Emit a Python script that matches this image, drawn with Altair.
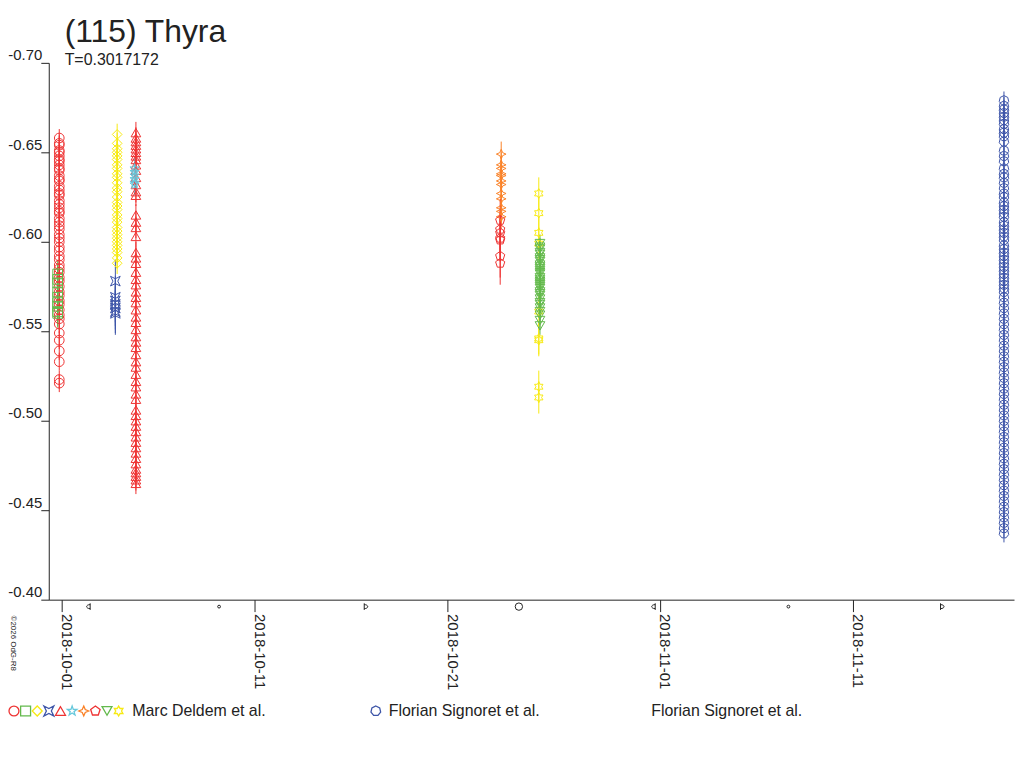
import altair as alt
import pandas as pd

TITLE = "(115) Thyra"
SUBTITLE = "T=0.3017172"
COPYRIGHT = "©2026 OdG-R8"

# ---- sessions (one symbol each) ----
session_ids = ["circ", "sq", "dia", "bow", "tri", "star5", "star4", "pent", "star6", "tdown", "hept"]
session_times = [
    "2018-09-30T21:00:00Z", "2018-09-30T19:00:00Z",
    "2018-10-03T21:00:00Z", "2018-10-03T18:45:00Z",
    "2018-10-04T20:20:00Z", "2018-10-04T18:40:00Z",
    "2018-10-23T18:45:00Z", "2018-10-23T17:30:00Z",
    "2018-10-25T17:30:00Z", "2018-10-25T19:00:00Z",
    "2018-11-18T20:10:00Z",
]
session_errors = [0.005, 0.008, 0.006, 0.012, 0.006, 0.006, 0.007, 0.012, 0.009, 0.005, 0.005]

mag_circ = [-0.658, -0.655, -0.654, -0.651, -0.650, -0.648, -0.646, -0.645, -0.643, -0.641,
            -0.640, -0.637, -0.635, -0.634, -0.631, -0.629, -0.627, -0.626, -0.623, -0.621,
            -0.619, -0.617, -0.616, -0.613, -0.611, -0.609, -0.607, -0.604, -0.602, -0.600,
            -0.597, -0.595, -0.592, -0.590, -0.587, -0.585, -0.583, -0.580, -0.578, -0.575,
            -0.572, -0.570, -0.567, -0.565, -0.562, -0.559, -0.557, -0.554, -0.549, -0.545,
            -0.539, -0.533, -0.523, -0.521]
mag_sq = [-0.582, -0.579, -0.577, -0.572, -0.569, -0.566, -0.564, -0.561, -0.560]
mag_dia = [-0.660, -0.655, -0.652, -0.650, -0.648, -0.646, -0.643, -0.641, -0.638, -0.636,
           -0.633, -0.630, -0.628, -0.625, -0.622, -0.620, -0.618, -0.615, -0.613, -0.611,
           -0.608, -0.606, -0.604, -0.602, -0.600, -0.598, -0.596, -0.594, -0.591, -0.588]
mag_bow = [-0.578, -0.569, -0.567, -0.565, -0.563, -0.561, -0.560]
mag_tri = [-0.661, -0.658, -0.656, -0.654, -0.652, -0.650, -0.648, -0.646, -0.643, -0.640,
           -0.636, -0.632, -0.628, -0.626, -0.615, -0.611, -0.608, -0.603, -0.594, -0.591,
           -0.588, -0.583, -0.579, -0.576, -0.572, -0.569, -0.566, -0.562, -0.558, -0.555,
           -0.551, -0.547, -0.544, -0.541, -0.537, -0.533, -0.530, -0.526, -0.522, -0.519,
           -0.515, -0.512, -0.506, -0.503, -0.500, -0.497, -0.494, -0.491, -0.488, -0.485,
           -0.482, -0.479, -0.476, -0.473, -0.471, -0.469, -0.467, -0.465]
mag_star5 = [-0.641, -0.639, -0.637, -0.635, -0.633, -0.632]
mag_star4 = [-0.649, -0.643, -0.641, -0.638, -0.637, -0.634, -0.632, -0.627, -0.624, -0.619,
             -0.617, -0.614]
mag_pent = [-0.612, -0.607, -0.605, -0.602, -0.601, -0.592, -0.588]
mag_star6 = [-0.627, -0.616, -0.605, -0.599, -0.561, -0.546, -0.545, -0.519, -0.513]
mag_tdown = [-0.599, -0.597, -0.596, -0.594, -0.593, -0.591, -0.590, -0.589, -0.587, -0.586,
             -0.585, -0.584, -0.583, -0.582, -0.580, -0.579, -0.578, -0.577, -0.576, -0.575,
             -0.574, -0.572, -0.571, -0.570, -0.568, -0.566, -0.565, -0.563, -0.561, -0.559,
             -0.556, -0.553]
mag_hept = [-0.679, -0.676, -0.674, -0.672, -0.670, -0.668, -0.666, -0.663, -0.661, -0.659,
            -0.656, -0.651, -0.648, -0.645, -0.641, -0.638, -0.636, -0.633, -0.630, -0.627,
            -0.625, -0.622, -0.620, -0.618, -0.616, -0.614, -0.611, -0.609, -0.607, -0.605,
            -0.603, -0.601, -0.598, -0.596, -0.594, -0.592, -0.590, -0.588, -0.586, -0.584,
            -0.582, -0.580, -0.578, -0.576, -0.574, -0.572, -0.569, -0.566, -0.563, -0.560,
            -0.557, -0.554, -0.551, -0.548, -0.545, -0.542, -0.539, -0.536, -0.533, -0.530,
            -0.527, -0.524, -0.521, -0.518, -0.515, -0.512, -0.509, -0.506, -0.503, -0.500,
            -0.497, -0.494, -0.491, -0.488, -0.485, -0.482, -0.479, -0.476, -0.473, -0.470,
            -0.467, -0.464, -0.461, -0.458, -0.455, -0.452, -0.449, -0.446, -0.443, -0.440,
            -0.437]
session_mags = [mag_circ, mag_sq, mag_dia, mag_bow, mag_tri, mag_star5, mag_star4,
                mag_pent, mag_star6, mag_tdown, mag_hept]

observers = ["Marc Deldem et al.", "Florian Signoret et al.", "Florian Signoret et al."]
legend_group1 = ["circ", "sq", "dia", "bow", "tri", "star5", "star4", "pent", "tdown", "star6"]

moon_dates = ["2018-10-02T09:45:00Z", "2018-10-09T03:47:00Z", "2018-10-16T18:02:00Z",
              "2018-10-24T16:45:00Z", "2018-10-31T16:40:00Z", "2018-11-07T16:02:00Z",
              "2018-11-15T14:54:00Z"]
moon_kind = ["last", "new", "first", "full", "last", "new", "first"]

y_ticks = [-0.70, -0.65, -0.60, -0.55, -0.50, -0.45, -0.40]

# ---- styles ----
RED, GREEN, YELLOW, BLUE, CYAN, ORANGE = "#ee3333", "#63b94c", "#f7ea12", "#3d55a8", "#66c8dc", "#fa8228"
BOW = "M-1,-1L0,-0.5L1,-1L0.5,0L1,1L0,0.5L-1,1L-0.5,0Z"
STAR5 = ("M0,-1L0.235,-0.324L0.951,-0.309L0.380,0.124L0.588,0.809L0,0.4"
         "L-0.588,0.809L-0.380,0.124L-0.951,-0.309L-0.235,-0.324Z")
STAR4 = "M0,-1L0.3,-0.3L1,0L0.3,0.3L0,1L-0.3,0.3L-1,0L-0.3,-0.3Z"
PENT = "M0,-1L0.951,-0.309L0.588,0.809L-0.588,0.809L-0.951,-0.309Z"
STAR6 = ("M0,-1L0.289,-0.5L0.866,-0.5L0.577,0L0.866,0.5L0.289,0.5L0,1L-0.289,0.5"
         "L-0.866,0.5L-0.577,0L-0.866,-0.5L-0.289,-0.5Z")
HEPT = "M0,-1L0.782,-0.623L0.975,0.223L0.434,0.901L-0.434,0.901L-0.975,0.223L-0.782,-0.623Z"
style_shape = {"circ": "circle", "sq": "square", "dia": "diamond", "bow": BOW,
               "tri": "triangle-up", "star5": STAR5, "star4": STAR4, "pent": PENT,
               "star6": STAR6, "tdown": "triangle-down", "hept": HEPT}
style_color = {"circ": RED, "sq": GREEN, "dia": YELLOW, "bow": BLUE, "tri": RED,
               "star5": CYAN, "star4": ORANGE, "pent": RED, "star6": YELLOW,
               "tdown": GREEN, "hept": BLUE}
LASTQ = "M0.4,-1L0.4,1M0.4,-0.6C-1,-0.6 -1,0.6 0.4,0.6"
FIRSTQ = "M-0.4,-1L-0.4,1M-0.4,-0.6C1,-0.6 1,0.6 -0.4,0.6"
moon_shape = {"last": LASTQ, "new": "circle", "first": FIRSTQ, "full": "circle"}
moon_size = {"last": 45, "new": 8, "first": 45, "full": 55}

FONT = "Liberation Sans"
INK = "#222222"
W, H = 971, 540

rows = []
for sid, t, err, mags in zip(session_ids, session_times, session_errors, session_mags):
    for m in mags:
        rows.append({"sid": sid, "t": t, "mag": m, "lo": m - err, "hi": m + err})
df = pd.DataFrame(rows)

shape_scale = alt.Scale(domain=session_ids, range=[style_shape[s] for s in session_ids])
color_scale = alt.Scale(domain=session_ids, range=[style_color[s] for s in session_ids])

x_scale = alt.Scale(
    type="utc",
    domain=[alt.DateTime(year=2018, month=9, date=30, hours=7, minutes=55, utc=True),
            alt.DateTime(year=2018, month=11, date=19, hours=8, minutes=40, utc=True)],
    nice=False,
)
x_axis = alt.Axis(
    title=None, format="%Y-%m-%d", labelAngle=90, labelAlign="left",
    labelBaseline="alphabetic", labelFontSize=15, labelPadding=2, tickSize=12,
    values=[alt.DateTime(year=2018, month=10, date=1, utc=True),
            alt.DateTime(year=2018, month=10, date=11, utc=True),
            alt.DateTime(year=2018, month=10, date=21, utc=True),
            alt.DateTime(year=2018, month=11, date=1, utc=True),
            alt.DateTime(year=2018, month=11, date=11, utc=True)],
    labelFlush=False, labelOverlap=False,
)
y_scale = alt.Scale(domain=[-0.70, -0.40], reverse=True, nice=False, zero=False)
y_axis = alt.Axis(
    title=None, values=y_ticks, tickSize=8, labelFontSize=15, labelPadding=-1,
    labelBaseline="bottom", labelExpr="replace(format(datum.value, '.2f'), '\u2212', '-')",
    labelFlush=False, labelOverlap=False,
)

base = alt.Chart(df)
rules = base.mark_rule(strokeWidth=1).encode(
    x=alt.X("t:T", scale=x_scale, axis=x_axis),
    y=alt.Y("lo:Q", scale=y_scale, axis=y_axis),
    y2="hi:Q",
    color=alt.Color("sid:N", scale=color_scale, legend=None),
)
points = base.mark_point(filled=False, strokeWidth=1, size=95, opacity=1).encode(
    x="t:T",
    y="mag:Q",
    color=alt.Color("sid:N", scale=color_scale, legend=None),
    shape=alt.Shape("sid:N", scale=shape_scale, legend=None),
)

moon_df = pd.DataFrame({"t": moon_dates, "kind": moon_kind})
moon_df["glyph"] = moon_df["kind"].map(moon_shape)
moon_df["sz"] = moon_df["kind"].map(moon_size)
moons = alt.Chart(moon_df).mark_point(filled=False, strokeWidth=1, color=INK, opacity=1).encode(
    x="t:T",
    y=alt.value(547),
    shape=alt.Shape("glyph:N", scale=None, legend=None),
    size=alt.Size("sz:Q", scale=None, legend=None),
)

title = alt.Chart(pd.DataFrame({"s": [TITLE]})).mark_text(
    font=FONT, fontSize=32, color=INK, align="left", baseline="alphabetic"
).encode(text="s:N", x=alt.value(16), y=alt.value(-21))
subtitle = alt.Chart(pd.DataFrame({"s": [SUBTITLE]})).mark_text(
    font=FONT, fontSize=16, color=INK, align="left", baseline="alphabetic"
).encode(text="s:N", x=alt.value(16), y=alt.value(2))
copyright_txt = alt.Chart(pd.DataFrame({"s": [COPYRIGHT]})).mark_text(
    font=FONT, fontSize=8, color=INK, align="left", baseline="middle", angle=90
).encode(text="s:N", x=alt.value(-36), y=alt.value(556))

leg_df = pd.DataFrame({"sid": legend_group1 + ["hept"],
                       "px": [-35 + 11.7 * i for i in range(len(legend_group1))] + [329]})
leg_syms = alt.Chart(leg_df).mark_point(filled=False, strokeWidth=1.3, size=100, opacity=1).encode(
    x=alt.X("px:Q", scale=None),
    y=alt.value(652),
    color=alt.Color("sid:N", scale=color_scale, legend=None),
    shape=alt.Shape("sid:N", scale=shape_scale, legend=None),
)
leg_txt_df = pd.DataFrame({"s": observers, "px": [84, 342, 606]})
leg_txt = alt.Chart(leg_txt_df).mark_text(
    font=FONT, fontSize=16, color=INK, align="left", baseline="alphabetic"
).encode(text="s:N", x=alt.X("px:Q", scale=None), y=alt.value(657))

chart = alt.layer(rules, points, moons, title, subtitle, copyright_txt, leg_syms, leg_txt).resolve_scale(
    shape="independent", size="independent"
).properties(
    width=W, height=H,
    padding={"left": 41, "top": 53, "right": 2, "bottom": 140},
    autosize=alt.AutoSizeParams(type="none"),
    background="white",
).configure_view(stroke=None).configure_axis(
    grid=False, domainColor=INK, tickColor=INK, labelColor=INK, labelFont=FONT,
    domainWidth=1, tickWidth=1,
)

chart.save("out.html", embed_options={"renderer": "svg", "actions": False})
